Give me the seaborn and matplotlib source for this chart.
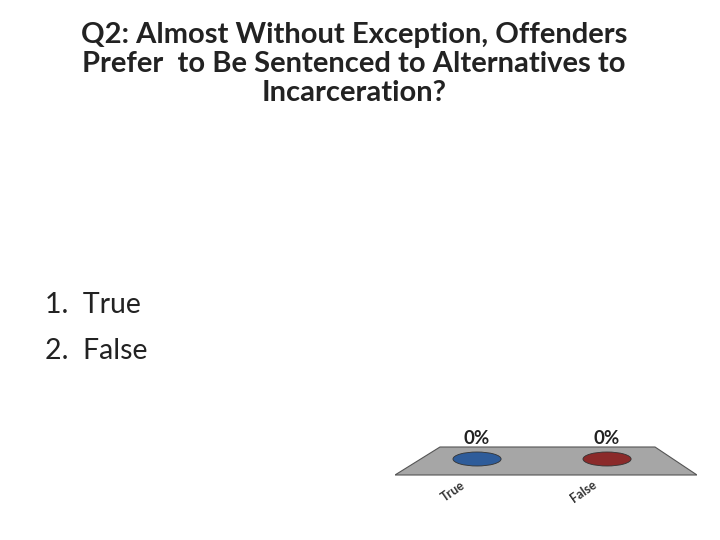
import matplotlib
matplotlib.use("Agg")
import matplotlib.pyplot as plt
import seaborn as sns
import pandas as pd
from matplotlib.patches import Ellipse, Polygon

title = "Q2: Almost Without Exception, Offenders\nPrefer  to Be Sentenced to Alternatives to\nIncarceration?"
options = ["1.  True", "2.  False"]
categories = ["True", "False"]
values = [0, 0]
colors = ["#2e5c9a", "#8b2a2a"]

sns.set_theme(style="white")
plt.rcParams['font.family'] = ['Lato', 'DejaVu Sans']

fig = plt.figure(figsize=(7.2, 5.4), dpi=100)
fig.text(0.492, 0.96, title, ha="center", va="top", fontsize=21,
         fontweight="bold", color="#222222", linespacing=1.15)
for i, opt in enumerate(options):
    fig.text(0.062, 0.435 - i * 0.085, opt, ha="left", va="center", fontsize=20.5, color="#222222")

# chart area in pixel-like units: y = 459 - pixel row
ax = fig.add_axes([395 / 720, 1 - 500 / 540, 302 / 720, 70 / 540])
df = pd.DataFrame({"cat": categories, "val": values})
sns.barplot(data=df, x="cat", y="val", hue="cat", palette=colors, legend=False, ax=ax)
ax.set_xlim(-0.631, 1.692)
ax.set_ylim(-41, 29)
ax.axis("off")

floor = Polygon([[-0.285, 12], [1.369, 12], [1.692, -16], [-0.631, -16]],
                closed=True, facecolor="#a6a6a6", edgecolor="#555555", lw=0.8, zorder=1)
ax.add_patch(floor)
for i, (v, c) in enumerate(zip(values, colors)):
    ax.add_patch(Ellipse((i, v), 0.37, 14, facecolor=c, edgecolor="#333333", lw=0.6, zorder=3))
    ax.text(i, 21, f"{v}%", ha="center", va="center", fontsize=13.5, fontweight="bold", color="#222222")
    ax.text(i - 0.18, -32, categories[i], ha="center", va="center", fontsize=9,
            fontweight="bold", rotation=35, color="#333333")

fig.savefig("out.png", dpi=100)
